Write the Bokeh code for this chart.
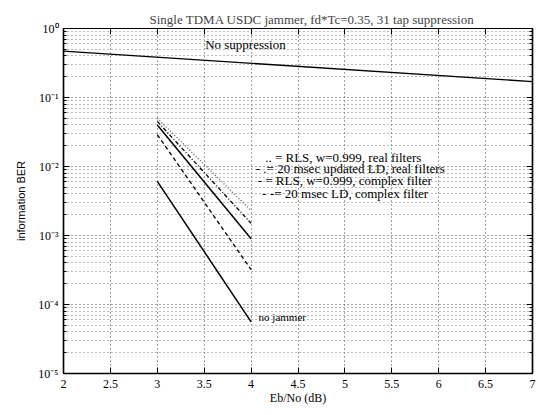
from bokeh.plotting import figure
from bokeh.models import LogAxis, LinearAxis, FixedTicker, CustomJSTickFormatter, Label
from bokeh.embed import file_html
from bokeh.resources import INLINE

# ---- data ----
x_nosupp = [2, 7]
ber_nosupp = [0.47, 0.17]

x_sim = [3, 4]
ber_rls_real = [0.050, 2.3e-3]      # dotted
ber_ld_real = [0.045, 1.5e-3]       # dash-dot
ber_rls_cplx = [0.040, 9.0e-4]      # solid
ber_ld_cplx = [0.029, 3.2e-4]       # dashed
ber_nojam = [6.1e-3, 5.6e-5]        # solid, no jammer

x_ticks = [2, 2.5, 3, 3.5, 4, 4.5, 5, 5.5, 6, 6.5, 7]
y_ticks = [1e-5, 1e-4, 1e-3, 1e-2, 1e-1, 1e0]
legend_texts = [
    ".. = RLS, w=0.999, real filters",
    "- .= 20 msec updated LD, real filters",
    "- = RLS, w=0.999, complex filter",
    "- -= 20 msec LD, complex filter",
]

SERIF = "Liberation Serif"
SANS = "Liberation Sans"

minor = [m * 10.0 ** e for e in range(-5, 0) for m in range(2, 10)]

p = figure(y_axis_type="log", x_range=(2, 7), y_range=(1e-5, 1),
           width=540, height=407,
           min_border_left=63, min_border_right=8, min_border_top=28, min_border_bottom=33,
           output_backend="svg", toolbar_location=None,
           background_fill_color="white", border_fill_color="white")

p.title.text = "Single TDMA USDC jammer, fd*Tc=0.35, 31 tap suppression"
p.title.align = "left"
p.title.text_font = SERIF
p.title.text_font_size = "13px"
p.title.text_font_style = "normal"
p.title.offset = 86
p.title.standoff = 4

p.outline_line_color = "black"
p.outline_line_width = 1.2

fmt = CustomJSTickFormatter(code="""
const sup = {'-':'\u207b','0':'\u2070','1':'\u00b9','2':'\u00b2','3':'\u00b3','4':'\u2074','5':'\u2075','6':'\u2076','7':'\u2077','8':'\u2078','9':'\u2079'};
const e = Math.round(Math.log10(tick));
return '10' + String(e).split('').map(c => sup[c]).join('');
""")

yax = p.yaxis[0]
yax.ticker = FixedTicker(ticks=y_ticks, minor_ticks=minor)
yax.formatter = fmt
yax.axis_label = "information BER"
yax.axis_label_text_font = SANS
yax.axis_label_text_font_size = "11px"
yax.axis_label_text_font_style = "normal"
yax.axis_label_standoff = 8
yax.major_label_text_font = SERIF
yax.major_label_text_font_size = "12px"
yax.major_label_standoff = 5

xax = p.xaxis[0]
xax.ticker = FixedTicker(ticks=x_ticks)
xax.axis_label = "Eb/No (dB)"
xax.axis_label_text_font = SERIF
xax.axis_label_text_font_size = "12px"
xax.axis_label_text_font_style = "normal"
xax.axis_label_standoff = 0
xax.major_label_text_font = SERIF
xax.major_label_text_font_size = "12px"
xax.major_label_standoff = 6

for ax in (yax, xax):
    ax.axis_line_color = "black"
    ax.axis_line_width = 1.5
    ax.major_tick_in = 6
    ax.major_tick_out = 0
    ax.minor_tick_in = 3
    ax.minor_tick_out = 0
    ax.major_tick_line_color = "black"
    ax.minor_tick_line_color = "black"
    ax.major_label_text_color = "black"
    ax.axis_label_text_color = "black"

rax = LogAxis(ticker=FixedTicker(ticks=y_ticks, minor_ticks=minor),
              major_label_text_font_size="1px", major_label_text_alpha=0, major_label_standoff=0,
              major_tick_in=6, major_tick_out=0, minor_tick_in=3, minor_tick_out=0,
              axis_line_color="black", axis_line_width=1.5)
p.add_layout(rax, "right")
tax = LinearAxis(ticker=FixedTicker(ticks=x_ticks),
                 major_label_text_font_size="1px", major_label_text_alpha=0, major_label_standoff=0,
                 major_tick_in=6, major_tick_out=0, minor_tick_in=0, minor_tick_out=0,
                 axis_line_color="black", axis_line_width=1.2)
p.add_layout(tax, "above")

p.xgrid.grid_line_color = "#444444"
p.xgrid.grid_line_dash = "1 3"
p.xgrid.grid_line_width = 1
p.ygrid.grid_line_color = "#444444"
p.ygrid.grid_line_dash = "1 3"
p.ygrid.grid_line_width = 1
p.ygrid.minor_grid_line_color = "#777777"
p.ygrid.minor_grid_line_dash = "1 3"
p.ygrid.minor_grid_line_width = 1

p.line(x_nosupp, ber_nosupp, line_color="black", line_width=1.4)
p.line(x_sim, ber_rls_real, line_color="#555555", line_width=1.3, line_dash="1 2")
p.line(x_sim, ber_ld_real, line_color="black", line_width=1.3, line_dash="4 2 1 2")
p.line(x_sim, ber_rls_cplx, line_color="black", line_width=1.5)
p.line(x_sim, ber_ld_cplx, line_color="black", line_width=1.3, line_dash="4 3")
p.line(x_sim, ber_nojam, line_color="black", line_width=1.5)

def lab(x, y, t, size="12px"):
    p.add_layout(Label(x=x, y=y, text=t, text_font=SERIF, text_font_size=size,
                       text_color="black", text_baseline="middle"))

lab(3.51, 0.58, "No suppression", size="13px")
leg_y = [0.0135, 0.0092, 0.0062, 0.0040]
leg_x = [4.15, 4.05, 4.07, 4.12]
for xx, yy, t in zip(leg_x, leg_y, legend_texts):
    lab(xx, yy, t, size="13px")
lab(4.08, 6.7e-5, "no jammer", size="11px")

open("out.html", "w").write(file_html(p, INLINE))
